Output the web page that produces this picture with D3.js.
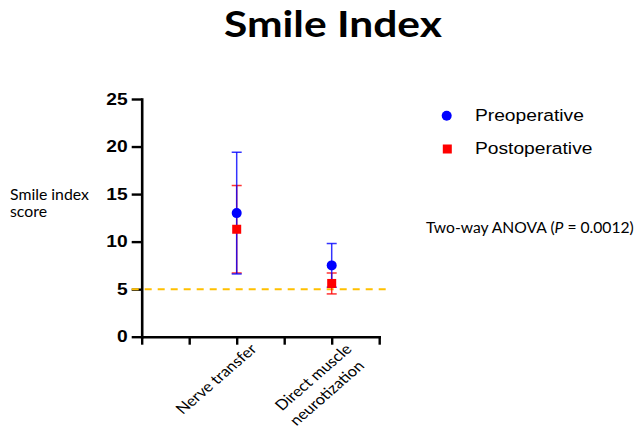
<!DOCTYPE html>
<html>
<head>
<meta charset="utf-8">
<script src="https://cdn.jsdelivr.net/npm/d3@7"></script>
<style>
  body { margin: 0; background: white; }
</style>
</head>
<body>
<div id="chart"></div>
<script>
// groups sit on slots of a 0..5 category axis
const groups = ["Nerve transfer", "Direct muscle|neurotization"];
const groupSlot = [2, 4];
const slotCount = 5;

const preMean = [13.0, 7.5];
const preLow = [6.6, 5.2];
const preHigh = [19.4, 9.8];

const postMean = [11.3, 5.6];
const postLow = [6.7, 4.5];
const postHigh = [15.9, 6.7];

const yTicks = [0, 5, 10, 15, 20, 25];
const refLine = 5;

const w = 636;
const h = 436;

const x = d3.scaleLinear().domain([0, slotCount]).range([141.7, 379.2]);
const y = d3.scaleLinear().domain([0, 25]).range([336.7, 99]);

const svg = d3.select("#chart")
  .append("svg")
  .attr("width", w)
  .attr("height", h)
  .style("background", "white");

// stretch a text element horizontally around its anchor so it spans target px
function fitWidth(sel, target) {
  sel.each(function() {
    const t = d3.select(this);
    const len = this.getComputedTextLength();
    const ax = +t.attr("x") || 0;
    const ay = +t.attr("y") || 0;
    const s = target / len;
    t.attr("transform", `translate(${ax},${ay}) scale(${s},1) translate(${-ax},${-ay})`);
  });
}

// title
const title = svg.append("text")
  .attr("x", 333)
  .attr("y", 37)
  .attr("text-anchor", "middle")
  .style("font-family", "Lato")
  .style("font-weight", "bold")
  .style("font-size", "37px")
  .text("Smile Index");
fitWidth(title, 218);

// y axis title, two lines
const yl1 = svg.append("text")
  .attr("x", 10).attr("y", 200.5)
  .style("font-family", "Lato").style("font-size", "15px")
  .text("Smile index");
const ySc = 79 / yl1.node().getComputedTextLength();
fitWidth(yl1, 79);
const yl2 = svg.append("text")
  .attr("x", 10).attr("y", 217.5)
  .style("font-family", "Lato").style("font-size", "15px")
  .text("score");
fitWidth(yl2, yl2.node().getComputedTextLength() * ySc);

// axes
const yAxis = d3.axisLeft(y).tickValues(yTicks).tickSize(10).tickSizeOuter(0).tickPadding(4);
const xAxis = d3.axisBottom(x).ticks(slotCount).tickSize(8).tickSizeOuter(0).tickFormat("");

const gy = svg.append("g").attr("transform", `translate(${x(0)},0)`).call(yAxis);
const gx = svg.append("g").attr("transform", `translate(0,${y(0)})`).call(xAxis);

[gx, gy].forEach(g => {
  g.select(".domain").attr("stroke", "#000").attr("stroke-width", 2.6).attr("stroke-linecap", "square");
  g.selectAll(".tick line").attr("stroke", "#000").attr("stroke-width", 2.4);
});
gy.selectAll(".tick text")
  .style("font-family", "Liberation Sans")
  .style("font-weight", "bold")
  .style("font-size", "16px")
  .attr("fill", "#000")
  .attr("transform", function() {
    const ax = +d3.select(this).attr("x");
    return `translate(${ax},0) scale(1.2,1) translate(${-ax},0)`;
  });

// reference line
svg.append("line")
  .attr("x1", x(0) - 10)
  .attr("x2", x(slotCount) + 8)
  .attr("y1", y(refLine))
  .attr("y2", y(refLine))
  .attr("stroke", "#FFC000")
  .attr("stroke-width", 2)
  .attr("stroke-dasharray", "7,6");

// category labels, rotated
groups.forEach((g, i) => {
  const lines = g.split("|");
  const lg = svg.append("g")
    .attr("transform", `translate(${x(groupSlot[i]) + 21},350) scale(1.15,1) rotate(-45)`);
  const t = lg.append("text")
    .attr("text-anchor", "end")
    .style("font-family", "Lato")
    .style("font-size", "14.5px")
    .attr("fill", "#000");
  lines.forEach((l, j) => {
    t.append("tspan")
      .attr("x", j === 0 ? 0 : -4)
      .attr("dy", j === 0 ? 0 : "1.35em")
      .text(l);
  });
});

function errorBars(lo, hi, color) {
  const cap = 5;
  const eb = svg.append("g").attr("stroke", color).attr("stroke-width", 1.5).attr("stroke-opacity", 0.8);
  groupSlot.forEach((s, i) => {
    const cx = x(s);
    eb.append("line").attr("x1", cx).attr("x2", cx).attr("y1", y(lo[i])).attr("y2", y(hi[i]));
    eb.append("line").attr("x1", cx - cap).attr("x2", cx + cap).attr("y1", y(lo[i])).attr("y2", y(lo[i]));
    eb.append("line").attr("x1", cx - cap).attr("x2", cx + cap).attr("y1", y(hi[i])).attr("y2", y(hi[i]));
  });
}

errorBars(postLow, postHigh, "#FF0000");
errorBars(preLow, preHigh, "#0000FF");

svg.selectAll("circle.pre")
  .data(preMean)
  .enter()
  .append("circle")
  .attr("class", "pre")
  .attr("cx", (d, i) => x(groupSlot[i]))
  .attr("cy", d => y(d))
  .attr("r", 5)
  .attr("fill", "#0000FF");

const sq = 9;
svg.selectAll("rect.post")
  .data(postMean)
  .enter()
  .append("rect")
  .attr("class", "post")
  .attr("x", (d, i) => x(groupSlot[i]) - sq / 2)
  .attr("y", d => y(d) - sq / 2)
  .attr("width", sq)
  .attr("height", sq)
  .attr("fill", "#FF0000");

// legend
svg.append("circle").attr("cx", 446.7).attr("cy", 115.7).attr("r", 5).attr("fill", "#0000FF");
svg.append("rect").attr("x", 447.3 - sq / 2).attr("y", 149 - sq / 2).attr("width", sq).attr("height", sq).attr("fill", "#FF0000");
const lt1 = svg.append("text")
  .attr("x", 475).attr("y", 121.3)
  .style("font-family", "Liberation Sans").style("font-size", "17px")
  .text("Preoperative");
const lSc = 109 / lt1.node().getComputedTextLength();
fitWidth(lt1, 109);
const lt2 = svg.append("text")
  .attr("x", 475).attr("y", 154.3)
  .style("font-family", "Liberation Sans").style("font-size", "17px")
  .text("Postoperative");
fitWidth(lt2, lt2.node().getComputedTextLength() * lSc);

// stats note, right up against the edge
const note = svg.append("text")
  .attr("x", 426).attr("y", 233)
  .style("font-family", "Lato").style("font-size", "15px");
note.append("tspan").text("Two-way ANOVA (");
note.append("tspan").style("font-style", "italic").text("P");
note.append("tspan").text(" = 0.0012)");
fitWidth(note, 208);
</script>
</body>
</html>
